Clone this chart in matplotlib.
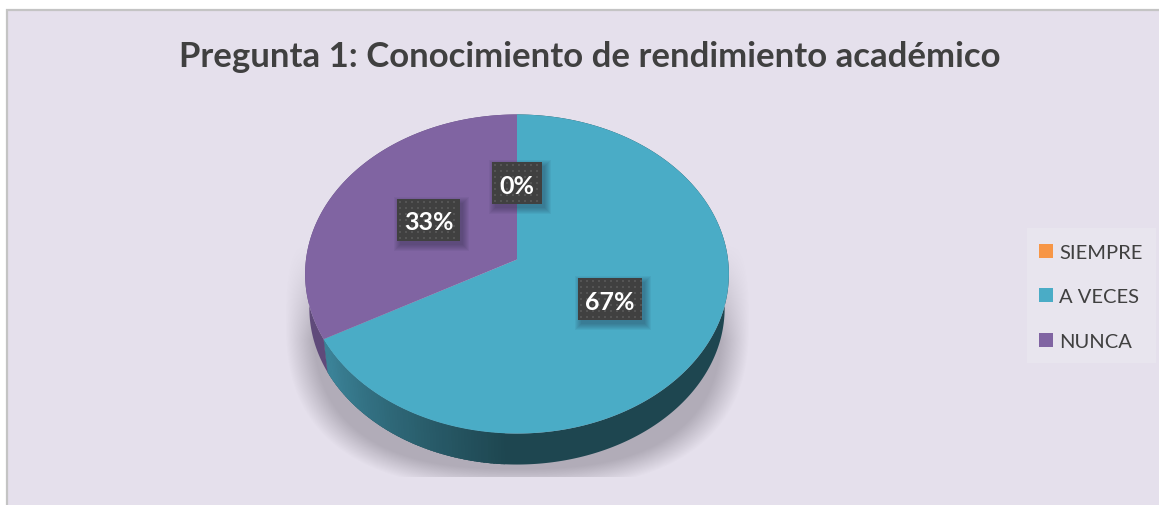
import numpy as np
import matplotlib
matplotlib.use('Agg')
import matplotlib.pyplot as plt
from matplotlib.patches import Rectangle, Patch
from matplotlib.colors import to_rgb

title = 'Pregunta 1: Conocimiento de rendimiento académico'
categories = ['SIEMPRE', 'A VECES', 'NUNCA']
values = [0, 67, 33]
colors = ['#f79646', '#4aacc6', '#8064a2']
side_colors = ['#b06a30', '#1e4650', '#5f4a7a']
labels = ['0%', '67%', '33%']
label_boxes = [(492, 163, 50, 42), (578, 279, 64, 42), (397, 200, 63, 42)]

bg = '#e5e0ec'
text_color = '#404040'
font = 'Lato'

# apex of the pie and the perspective of the disc, in picture pixels
cx, cy = 517, 260.5
A, B, k = 211, 158.2, 0.0909
depth = 34.5
shrink = 0.98


def project(theta, drop=0.0, scale=1.0):
    # theta runs clockwise from the top of the disc
    u, v = np.sin(theta), np.cos(theta)
    w = 1 + k * v
    return cx + scale * A * u / w, cy + drop - scale * B * v / w


def wall(t1, t2, col, n=2):
    tt = np.linspace(t1, t2, n)
    x1, y1 = project(tt)
    x2, y2 = project(tt[::-1], depth, shrink)
    ax.fill(np.r_[x1, x2], np.r_[y1, y2], color=col, lw=0, zorder=2)


fig = plt.figure(figsize=(11.59, 5.06), dpi=100)
ax = fig.add_axes([0, 0, 1, 1])
ax.axis('off')

# chart area with its thin border, white margin outside
ax.add_patch(Rectangle((7, 11), 1160, 510, facecolor=bg, edgecolor='#c4c4c4', lw=1.6, zorder=0))

# soft shadow behind the pie
xs, ys = np.meshgrid(np.arange(270, 770), np.arange(235, 478))
r = (np.abs((xs - 517) / 232.0) ** 2.6 + np.abs((ys - 318) / 172.0) ** 2.6) ** (1 / 2.6)
fade = np.clip((1.0 - r) / 0.12, 0, 1)
fade = fade * np.clip((ys - 245) / 95.0, 0, 1)
shadow = np.zeros(xs.shape + (4,))
shadow[..., :3] = to_rgb('#8f8a96')
shadow[..., 3] = 0.6 * fade
ax.imshow(shadow, extent=(270, 770, 478, 235), interpolation='bilinear', zorder=1, aspect='auto')
ax.set_xlim(0, 1159)
ax.set_ylim(506, 0)

# slice angles
fractions = np.array(values) / sum(values)
edges = np.concatenate([[0], np.cumsum(fractions)]) * 2 * np.pi

# side wall, the lit end of the teal slice fades over its last part
for i in range(len(values)):
    if values[i] == 0:
        continue
    wall(edges[i], edges[i + 1], side_colors[i], 300)
    if i == 1:
        dark = np.array(to_rgb(side_colors[i]))
        lit = np.array(to_rgb('#3b8297'))
        start = np.radians(183)
        th = np.linspace(start, edges[i + 1], 70)
        for a, b in zip(th[:-1], th[1:]):
            t = (b - start) / np.radians(55)
            wall(a, min(b + 0.01, edges[i + 1]), dark + (lit - dark) * min(t, 1))

# top of the pie
for i in range(len(values)):
    if values[i] == 0:
        continue
    th = np.linspace(edges[i], edges[i + 1], 300)
    x, y = project(th)
    ax.fill(np.r_[cx, x], np.r_[cy, y], color=colors[i], lw=0, zorder=3)

# data labels, dark dotted boxes with a small drop shadow
for lab, (bx, by, bw, bh) in zip(labels, label_boxes):
    for grow in np.arange(6, -1, -1):
        ax.add_patch(Rectangle((bx + 3 - grow, by + 4 - grow), bw + 2 * grow, bh + 2 * grow,
                               facecolor='#1a1a30', alpha=0.05, lw=0, zorder=4))
    ax.add_patch(Rectangle((bx, by), bw, bh, facecolor='#404040', lw=0, zorder=5))
    dx, dy = np.meshgrid(np.arange(bx + 3, bx + bw, 6), np.arange(by + 3, by + bh, 6))
    ax.scatter(dx.ravel(), dy.ravel(), s=3, marker='s', color='#545454', lw=0, zorder=5.5)
    ax.text(bx + bw / 2, by + bh / 2 + 2, lab, color='white', fontsize=18, fontweight='bold',
            family=font, ha='center', va='center', zorder=6)

ax.text(590, 57, title, color=text_color, fontsize=25, fontweight='bold', family=font,
        ha='center', va='center', zorder=6)

# legend sits on its own lighter panel
ax.add_patch(Rectangle((1027, 229), 129, 135, facecolor='#e8e5ee', lw=0, zorder=5))
handles = [Patch(facecolor=c, edgecolor='none') for c in colors]
leg = ax.legend(handles, categories, loc='upper left', bbox_to_anchor=(1039 / 1159, 1 - 245 / 506),
                prop={'family': font, 'size': 14.5}, labelcolor=text_color, frameon=False,
                handlelength=0.7, handleheight=0.7, handletextpad=0.3, labelspacing=1.35,
                borderpad=0, borderaxespad=0)
leg.set_zorder(6)

fig.savefig('out.png', dpi=100)
